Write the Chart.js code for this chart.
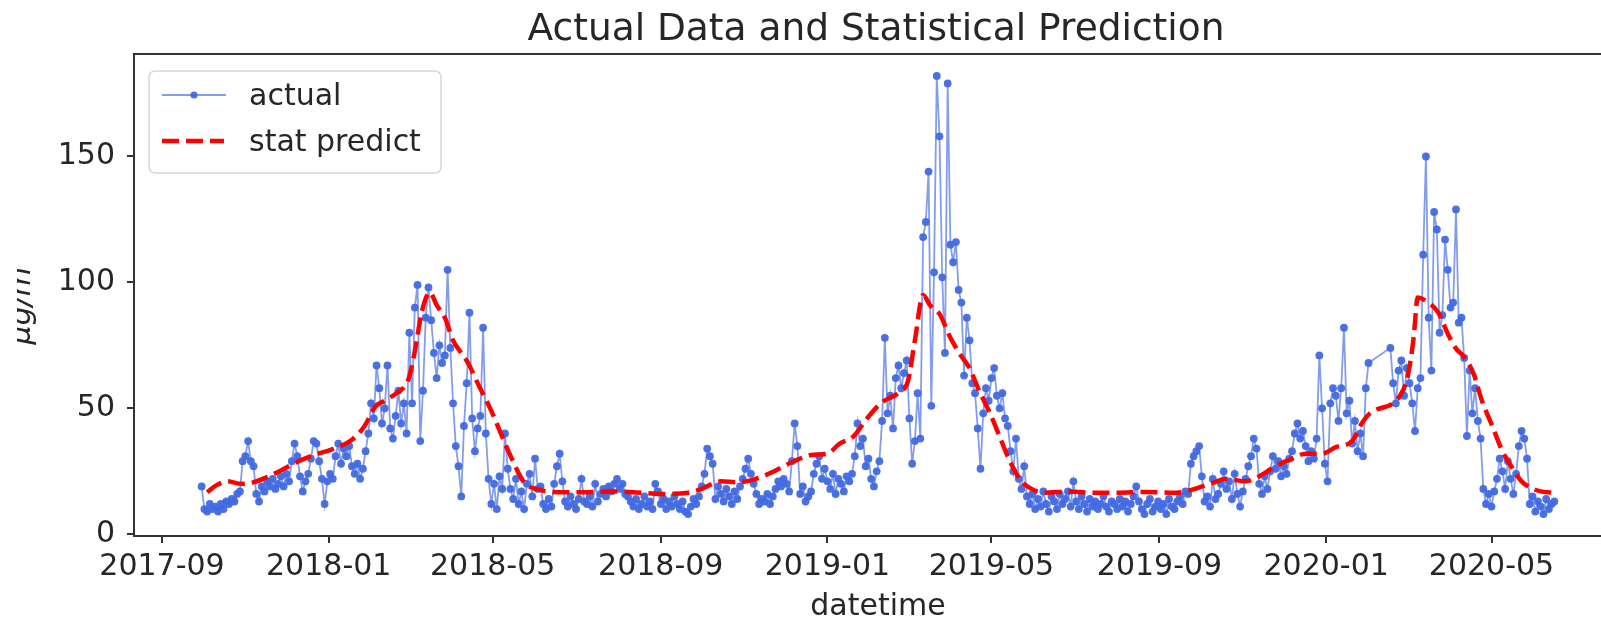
<!DOCTYPE html>
<html>
<head>
<meta charset="utf-8">
<script src="https://cdn.jsdelivr.net/npm/chart.js@4.4.0/dist/chart.umd.min.js"></script>
<style>
html,body{margin:0;padding:0;background:#fff;overflow:hidden;}
#wrap{position:relative;width:1601px;height:618px;overflow:hidden;background:#fff;}
#c{position:absolute;left:0;top:0;}
</style>
</head>
<body>
<div id="wrap"><canvas id="c" width="1660" height="640"></canvas></div>
<script>
// ---------- data ----------
const dayOrigin = '2017-09-01';
const actualStartOffset = 29;   // days after dayOrigin (2017-09-30)
const actualStepDays = 2;
const actualValues = [
 19,10,9,12,10,11,9,12,10,13,
 12,14,13,16,17,29,31,37,29,27,
 16,13,19,17,21,19,22,18,20,23,
 19,24,21,29,36,31,23,17,21,24,
 30,37,36,29,22,12,21,24,22,31,
 36,28,34,31,35,27,24,28,22,26,
 33,40,52,46,67,58,44,50,67,42,
 38,47,57,44,52,40,80,52,90,99,
 37,57,86,98,85,72,62,75,68,71,
 105,74,52,35,27,15,43,60,88,46,
 33,42,47,82,40,22,12,20,10,23,
 18,40,26,18,14,22,12,17,10,20,
 24,15,30,18,19,12,10,14,11,20,
 27,32,21,13,11,15,12,10,14,22,
 13,12,15,11,20,13,16,18,15,19,
 17,20,22,18,20,16,15,13,11,14,
 10,12,15,11,13,10,20,17,12,14,
 10,13,11,15,12,10,13,9,8,11,
 14,12,15,19,24,34,31,28,14,19,
 16,13,18,15,12,17,14,19,22,26,
 30,24,20,16,12,14,13,16,12,15,
 18,21,19,22,20,17,29,44,35,16,
 19,13,15,17,24,28,31,22,26,21,
 18,24,16,22,20,17,23,21,24,31,
 44,35,38,27,30,22,19,25,29,45,
 78,48,55,42,62,67,58,64,69,46,
 28,37,56,38,118,124,144,51,104,182,
 158,102,72,179,115,108,116,97,92,63,
 86,77,60,56,42,26,48,58,53,62,
 66,55,50,56,46,43,33,25,38,22,
 18,27,15,12,16,10,14,11,17,12,
 9,15,13,10,16,12,14,17,11,21,
 13,10,15,12,9,14,11,13,10,12,
 15,11,9,13,12,10,14,11,13,9,
 12,15,19,13,10,8,12,14,9,11,
 13,10,12,8,14,11,10,13,15,12,
 17,16,28,31,33,35,23,13,15,11,
 22,14,16,20,25,18,21,14,24,16,
 11,17,22,27,31,38,34,20,16,23,
 18,25,31,26,29,23,27,24,30,33,
 40,44,38,41,35,29,33,30,38,71,
 50,28,21,52,58,55,45,58,82,48,
 53,36,45,33,40,31,58,68,null,null,
 null,null,null,null,null,74,60,52,65,69,
 55,66,60,52,41,58,62,111,150,86,
 65,128,121,80,87,117,105,90,92,129,
 84,86,70,39,65,48,58,45,38,18,
 12,16,11,17,22,30,25,18,29,22,
 16,24,35,41,38,30,12,15,9,13,
 11,8,14,10,12,13
];
const predictDayOffsets = [33,40,48,58,66,76,88,100,112,124,139,148,156,163,173,180,185,190,196,201,207,213,219,224,231,241,248,256,265,275,290,310,330,350,365,385,394,409,421,433,448,462,477,487,496,506,516,526,540,546,551,557,562,569,577,584,591,598,606,613,620,628,635,645,664,679,700,720,742,754,769,779,793,803,815,827,837,849,859,871,878,884,906,912,916,919,924,934,941,947,953,960,966,973,981,988,995,1002,1009,1017];
const predictValues = [16.7,19.5,21,20,20.5,22.5,25.6,29,31.6,33.6,37.5,42.8,50.6,53,56.6,61,72.5,88,96,91,86,77,72,68,60,49,40,30,20.6,17.8,16.7,16.7,17,16.5,16,16.5,17.8,21,20.6,21.7,25,28.9,31.6,32,36,38.8,46,52,56.6,61,77,95,91,87.5,78,71.5,66,57,48,38.8,29.6,21.7,18.4,16.5,17,16.5,16.5,16.8,16.5,17.7,20.4,22,21,23,27,30,32,32,34.6,37,44,48,55,63.6,78,94,93,88,79.6,73.7,70.4,63.6,53,43.7,33,26.5,21,18.4,17,16.5];
const xTickLabels = ['2017-09','2018-01','2018-05','2018-09','2019-01','2019-05','2019-09','2020-01','2020-05'];
const yTickValues = [0,50,100,150];
const seriesLabels = ['actual','stat predict'];
const titleText = 'Actual Data and Statistical Prediction';
const xLabelText = 'datetime';
const yLabelText = 'μg/m';
const yLabelSup = '3';

// ---------- helpers ----------
const DAY = 86400000;
function dayOf(str){ const p = str.split('-').map(Number); return Date.UTC(p[0], p[1]-1, p[2]||1)/DAY; }
const origin = dayOf(dayOrigin);

const actualPoints = actualValues.map((v,i)=>({x: origin + actualStartOffset + i*actualStepDays, y: v}));
const predictPoints = predictDayOffsets.map((d,i)=>({x: origin + d, y: predictValues[i]}));

const allX = actualPoints.map(p=>p.x).concat(predictPoints.map(p=>p.x));
const xMinD = Math.min(...allX), xMaxD = Math.max(...allX);
const xPad = (xMaxD - xMinD)*0.05;
const allY = actualValues.filter(v=>v!==null).concat(predictValues);
const yMinD = Math.min(...allY), yMaxD = Math.max(...allY);
const yPad = (yMaxD - yMinD)*0.05;

const FONT = '"DejaVu Sans", sans-serif';
const TEXT = '#262626';
const BLUE_LINE = 'rgba(65,105,225,0.65)';
const BLUE_PT = 'rgba(65,105,225,0.95)';
const RED = '#ff0000';

const decor = {
  id: 'decor',
  afterDraw(chart){
    const ctx = chart.ctx, a = chart.chartArea;
    const cx = (a.left + a.right)/2;
    ctx.save();
    // frame (spines)
    ctx.strokeStyle = '#333'; ctx.lineWidth = 2;
    ctx.strokeRect(a.left, a.top, a.right - a.left, a.bottom - a.top);
    // title
    ctx.fillStyle = TEXT; ctx.textAlign = 'center'; ctx.textBaseline = 'alphabetic';
    ctx.font = '37.5px ' + FONT;
    ctx.fillText(titleText, cx - 2, a.top - 14);
    // x label
    ctx.font = '30px ' + FONT;
    ctx.fillText(xLabelText, cx, a.bottom + 79);
    // y label (rotated, partly cut by the figure edge)
    ctx.save();
    ctx.beginPath(); ctx.rect(17, 0, a.left, chart.height); ctx.clip();
    ctx.translate(30, (a.top + a.bottom)/2 + 4);
    ctx.rotate(-Math.PI/2);
    ctx.font = 'italic 30px ' + FONT;
    const w1 = ctx.measureText(yLabelText).width;
    ctx.font = '21px ' + FONT;
    const w2 = ctx.measureText(yLabelSup).width;
    const tot = w1 + w2;
    ctx.textAlign = 'left';
    ctx.font = 'italic 30px ' + FONT;
    ctx.fillText(yLabelText, -tot/2, 0);
    ctx.font = '21px ' + FONT;
    ctx.fillText(yLabelSup, -tot/2 + w1, -13);
    ctx.restore();
    // legend
    const ds = chart.data.datasets;
    const bx = a.left + 15, by = a.top + 17, bw = 292, bh = 102, r = 6;
    ctx.beginPath();
    ctx.moveTo(bx + r, by);
    ctx.arcTo(bx + bw, by, bx + bw, by + bh, r);
    ctx.arcTo(bx + bw, by + bh, bx, by + bh, r);
    ctx.arcTo(bx, by + bh, bx, by, r);
    ctx.arcTo(bx, by, bx + bw, by, r);
    ctx.closePath();
    ctx.fillStyle = 'rgba(255,255,255,0.8)'; ctx.fill();
    ctx.strokeStyle = '#d6d6d6'; ctx.lineWidth = 1.5; ctx.stroke();
    // entry 1
    const lx0 = bx + 13, lx1 = bx + 77, tx = bx + 100;
    let ly = by + 24;
    ctx.strokeStyle = ds[1].borderColor; ctx.lineWidth = 1.8; ctx.setLineDash([]);
    ctx.beginPath(); ctx.moveTo(lx0, ly); ctx.lineTo(lx1, ly); ctx.stroke();
    ctx.fillStyle = ds[1].pointBackgroundColor;
    ctx.beginPath(); ctx.arc((lx0 + lx1)/2, ly, 3.6, 0, Math.PI*2); ctx.fill();
    ctx.fillStyle = TEXT; ctx.textAlign = 'left'; ctx.font = '30px ' + FONT;
    ctx.fillText(ds[1].label, tx, ly + 10);
    // entry 2
    ly = by + 70;
    ctx.strokeStyle = ds[0].borderColor; ctx.lineWidth = ds[0].borderWidth; ctx.setLineDash(ds[0].borderDash);
    ctx.beginPath(); ctx.moveTo(lx0, ly); ctx.lineTo(lx0 + 62, ly); ctx.stroke();
    ctx.setLineDash([]);
    ctx.fillStyle = TEXT;
    ctx.fillText(ds[0].label, tx, ly + 10);
    ctx.restore();
  }
};

new Chart(document.getElementById('c'), {
  type: 'line',
  data: {
    datasets: [
      {
        label: seriesLabels[1],
        data: predictPoints,
        borderColor: RED,
        borderWidth: 4.5,
        borderDash: [17, 7],
        pointRadius: 0,
        cubicInterpolationMode: 'monotone',
        fill: false,
        order: 1
      },
      {
        label: seriesLabels[0],
        data: actualPoints,
        borderColor: BLUE_LINE,
        borderWidth: 1.8,
        pointRadius: 3.9,
        pointBackgroundColor: BLUE_PT,
        pointBorderWidth: 0,
        pointHoverRadius: 3.9,
        tension: 0,
        spanGaps: true,
        fill: false,
        order: 2
      }
    ]
  },
  options: {
    responsive: false,
    animation: false,
    devicePixelRatio: 1,
    events: [],
    layout: { padding: { left: 0, top: 54, right: 38, bottom: 0 } },
    plugins: { legend: { display: false }, title: { display: false }, tooltip: { enabled: false } },
    scales: {
      x: {
        type: 'linear',
        min: xMinD - xPad,
        max: xMaxD + xPad,
        afterFit(s){ s.height = 104; },
        afterBuildTicks(s){ s.ticks = xTickLabels.map(l => ({ value: dayOf(l + '-01') })); },
        grid: { drawOnChartArea: false, drawTicks: true, tickLength: 7, color: '#333', lineWidth: 2 },
        border: { display: false },
        ticks: {
          autoSkip: false, maxRotation: 0, minRotation: 0, padding: 6,
          color: TEXT, font: { family: FONT, size: 30 },
          callback: (v, i) => xTickLabels[i]
        }
      },
      y: {
        type: 'linear',
        min: yMinD - yPad,
        max: yMaxD + yPad,
        afterFit(s){ s.width = 134; },
        afterBuildTicks(s){ s.ticks = yTickValues.map(v => ({ value: v })); },
        grid: { drawOnChartArea: false, drawTicks: true, tickLength: 7, color: '#333', lineWidth: 2 },
        border: { display: false },
        ticks: {
          padding: 12, color: TEXT, font: { family: FONT, size: 30 },
          callback: (v) => String(v)
        }
      }
    }
  },
  plugins: [decor]
});
</script>
</body>
</html>
